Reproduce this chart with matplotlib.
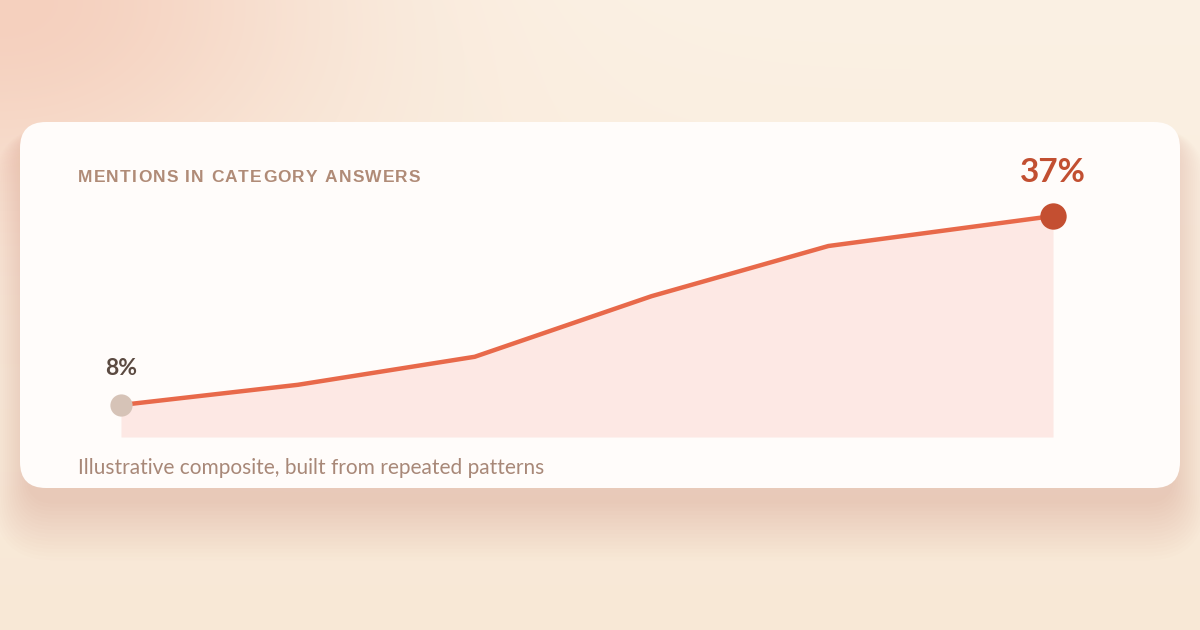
import numpy as np
import matplotlib
matplotlib.use("Agg")
import matplotlib.pyplot as plt
from matplotlib.patches import FancyBboxPatch

# data
stages = [0, 1, 2, 3, 4, 5.27]
mentions = [8, 11.1, 15.4, 24.7, 32.4, 37]
title = "MENTIONS IN CATEGORY ANSWERS"
note = "Illustrative composite, built from repeated patterns"

W, H = 1200, 630
fig = plt.figure(figsize=(W / 100, H / 100), dpi=100)

# background in pixel coords
bg = fig.add_axes([0, 0, 1, 1])
bg.set_xlim(0, W)
bg.set_ylim(H, 0)
bg.axis("off")

yy, xx = np.mgrid[0:H, 0:W]
top = np.array([251, 241, 228]) / 255
bot = np.array([248, 232, 214]) / 255
t = (yy / H)[..., None]
img = top * (1 - t) + bot * t
glow = np.exp(-((xx / 330.0) ** 2 + (yy / 220.0) ** 2))[..., None]
pink = np.array([245, 208, 190]) / 255
img = img * (1 - glow) + pink * glow
bg.imshow(img, extent=(0, W, H, 0), zorder=0, interpolation="bilinear")

# card shadow, mostly below the card
cx0, cy0, cx1, cy1 = 20, 122, 1180, 488
for i in range(16):
    pad = 2 + i * 2.1
    bg.add_patch(FancyBboxPatch((cx0 + 8, cy0 + 12 + pad * 0.8), cx1 - cx0 - 16, cy1 - cy0,
                                boxstyle="round,pad=%f,rounding_size=%f" % (pad, 26 + pad),
                                fc=(0.66, 0.46, 0.34), ec="none", alpha=0.012, zorder=1))
bg.add_patch(FancyBboxPatch((cx0, cy0), cx1 - cx0, cy1 - cy0,
                            boxstyle="round,pad=0,rounding_size=26",
                            fc="#fffcfa", ec="none", zorder=2))

# tracked title, char by char
fig.canvas.draw()
r = fig.canvas.get_renderer()
x = 78
for ch in title:
    tx = bg.text(x, 178, ch, fontsize=12.5, fontweight="bold", family="Liberation Sans",
                 color="#b08b77", va="center", ha="left", zorder=3)
    w = tx.get_window_extent(r).width
    x += w + 1.2

bg.text(78, 468, note, fontsize=15, family="Lato", color="#a88878",
        va="center", ha="left", zorder=3)

# chart
ax = fig.add_axes([121 / W, (H - 437) / H, (1053 - 121) / W, (437 - 200) / H])
ax.set_xlim(stages[0], stages[-1])
ax.set_ylim(3.09, 39.46)
ax.axis("off")
ax.fill_between(stages, mentions, 3.09, color="#fde8e4", lw=0, zorder=1)
ax.plot(stages, mentions, color="#e8694a", lw=3.2, solid_capstyle="round",
        solid_joinstyle="round", zorder=2, clip_on=False)
ax.plot(stages[0], mentions[0], "o", ms=16, color="#d6c3b7", mec="none", zorder=3, clip_on=False)
ax.plot(stages[-1], mentions[-1], "o", ms=19, color="#c44f31", mec="none", zorder=3, clip_on=False)
ax.annotate(f"{mentions[0]:.0f}%", (stages[0], mentions[0]), xytext=(0, 26), textcoords="offset points",
            ha="center", va="center", fontsize=16.5, fontweight="bold", family="Lato",
            color="#5b4a41", annotation_clip=False)
ax.annotate(f"{mentions[-1]:.0f}%", (stages[-1], mentions[-1]), xytext=(0, 31), textcoords="offset points",
            ha="center", va="center", fontsize=24, fontweight="bold", family="Lato",
            color="#c24f31", annotation_clip=False)

fig.savefig("out.png", dpi=100)
